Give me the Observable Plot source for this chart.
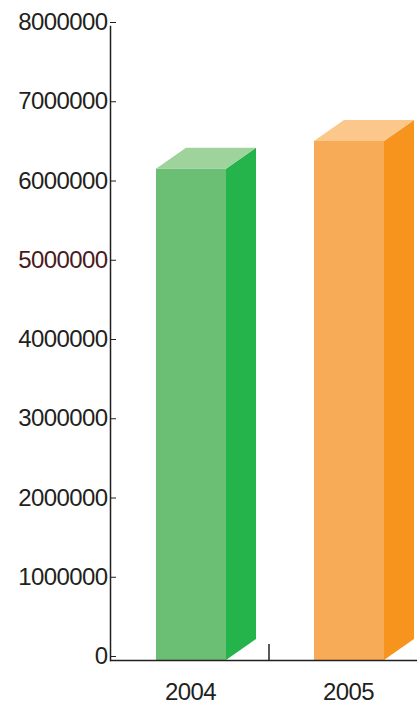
<!DOCTYPE html>
<html>
<head>
<meta charset="utf-8">
<script src="https://cdn.jsdelivr.net/npm/d3@7"></script>
<script src="https://cdn.jsdelivr.net/npm/@observablehq/plot@0.6"></script>
<style>
  html, body { margin: 0; padding: 0; background: #fff; overflow: hidden; }
  #chart text { letter-spacing: -0.6px; }
</style>
</head>
<body>
<div id="chart"></div>
<script>
const years = ["2004", "2005"];
const values = [6200000, 6550000];
const frontColors = ["#6bbf74", "#f8ab57"];
const sideColors = ["#25b34b", "#f7941e"];
const topColors = ["#9fd39c", "#fcc78a"];
const yTicks = [0, 1000000, 2000000, 3000000, 4000000, 5000000, 6000000, 7000000, 8000000];
const highlightTick = 5000000;

const data = years.map((year, i) => ({
  year, value: values[i], front: frontColors[i], side: sideColors[i], top: topColors[i]
}));

const ink = "#231f20";
const DX = 30, DY = -21;
const NS = "http://www.w3.org/2000/svg";

function poly(points, fill) {
  const p = document.createElementNS(NS, "polygon");
  p.setAttribute("points", points.map(d => d.join(",")).join(" "));
  p.setAttribute("fill", fill);
  return p;
}

const chart = Plot.plot({
  width: 417,
  height: 704,
  marginTop: 26,
  marginBottom: 44,
  marginLeft: 110,
  marginRight: 0,
  style: { fontFamily: "'Liberation Sans', Arial, sans-serif", fontSize: "24px", color: ink, background: "#fff" },
  x: { type: "band", domain: years, range: [111, 427], padding: 0 },
  y: { domain: [0, 8000000] },
  marks: [
    Plot.barY(data, {
      x: "year", y: "value", fill: "front", insetLeft: 45, insetRight: 43,
      render: (index, scales, vals, dimensions, context, next) => {
        const g = next(index, scales, vals, dimensions, context);
        const rects = Array.from(g.querySelectorAll("rect"));
        rects.forEach((r, k) => {
          const d = data[index[k]];
          const x1 = +r.getAttribute("x"), w = +r.getAttribute("width");
          const yT = +r.getAttribute("y"), h = +r.getAttribute("height");
          const x2 = x1 + w, yB = yT + h;
          g.appendChild(poly([[x2, yB], [x2, yT], [x2 + DX, yT + DY], [x2 + DX, yB + DY]], d.side));
          g.appendChild(poly([[x1, yT], [x2, yT], [x2 + DX, yT + DY], [x1 + DX, yT + DY]], d.top));
        });
        const base = dimensions.height - dimensions.marginBottom;
        years.slice(1).forEach(yr => {
          const sx = scales.x(yr);
          const l = document.createElementNS(NS, "line");
          l.setAttribute("x1", sx); l.setAttribute("x2", sx);
          l.setAttribute("y1", base); l.setAttribute("y2", base - 16);
          l.setAttribute("stroke", ink); l.setAttribute("stroke-width", 1.5);
          g.appendChild(l);
        });
        return g;
      }
    }),
    Plot.frame({ anchor: "left", stroke: ink, strokeWidth: 1.5 }),
    Plot.ruleY([0], { stroke: ink, strokeWidth: 1.5 }),
    Plot.axisY({
      ticks: yTicks, tickSize: -6, tickPadding: 9, tickFormat: d => String(d),
      fontSize: 24, stroke: ink, dy: -4,
      fill: d => d === highlightTick ? "#4a1a1c" : ink,
      label: null
    }),
    Plot.axisX({ tickSize: 0, tickPadding: 22, fontSize: 24, fill: ink, label: null })
  ]
});

document.getElementById("chart").appendChild(chart);
</script>
</body>
</html>
